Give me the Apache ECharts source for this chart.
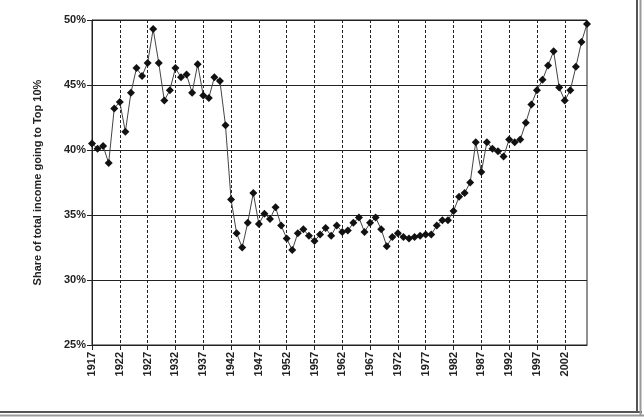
<!DOCTYPE html>
<html>
<head>
<meta charset="utf-8">
<script src="https://cdn.jsdelivr.net/npm/echarts@6/dist/echarts.min.js"></script>
<style>
html,body{margin:0;padding:0;background:#fff;}
#chart{width:644px;height:419px;}
</style>
</head>
<body>
<div id="chart"></div>
<script>
var years = ['1917','1918','1919','1920','1921','1922','1923','1924','1925','1926',
'1927','1928','1929','1930','1931','1932','1933','1934','1935','1936',
'1937','1938','1939','1940','1941','1942','1943','1944','1945','1946',
'1947','1948','1949','1950','1951','1952','1953','1954','1955','1956',
'1957','1958','1959','1960','1961','1962','1963','1964','1965','1966',
'1967','1968','1969','1970','1971','1972','1973','1974','1975','1976',
'1977','1978','1979','1980','1981','1982','1983','1984','1985','1986',
'1987','1988','1989','1990','1991','1992','1993','1994','1995','1996',
'1997','1998','1999','2000','2001','2002','2003','2004','2005','2006'];

var top10Share = [40.5,40.1,40.3,39.0,43.2,43.7,41.4,44.4,46.3,45.7,
46.7,49.3,46.7,43.8,44.6,46.3,45.6,45.8,44.4,46.6,
44.2,44.0,45.6,45.3,41.9,36.2,33.6,32.5,34.4,36.7,
34.3,35.1,34.7,35.6,34.2,33.2,32.3,33.6,33.9,33.4,
33.0,33.5,34.0,33.4,34.2,33.7,33.8,34.4,34.8,33.7,
34.4,34.8,33.9,32.6,33.3,33.6,33.3,33.2,33.3,33.4,
33.5,33.5,34.2,34.6,34.6,35.3,36.4,36.7,37.5,40.6,
38.3,40.6,40.1,39.9,39.5,40.8,40.6,40.8,42.1,43.5,
44.6,45.4,46.5,47.6,44.8,43.8,44.6,46.4,48.3,49.7];

var yTicks = {min: 25, max: 50, step: 5};
var yName = 'Share of total income going to Top 10%';

var chart = echarts.init(document.getElementById('chart'));
var lab = {fontFamily: 'Liberation Sans, Arial, sans-serif', fontWeight: 'bold', fontSize: 11, color: '#222'};
chart.setOption({
  animation: false,
  backgroundColor: '#fff',
  grid: {left: 92, right: 57, top: 20, bottom: 74, show: true, borderColor: '#222', borderWidth: 1},
  xAxis: {
    type: 'category',
    data: years,
    boundaryGap: false,
    axisLine: {lineStyle: {color: '#222', width: 1}},
    axisTick: {interval: 4, length: 5, lineStyle: {color: '#222'}},
    axisLabel: Object.assign({interval: 4, rotate: 90, margin: 7}, lab),
    splitLine: {show: true, interval: 4, lineStyle: {color: '#222', type: [3, 2], width: 1}}
  },
  yAxis: {
    type: 'value',
    min: yTicks.min, max: yTicks.max, interval: yTicks.step,
    name: yName,
    nameLocation: 'middle',
    nameGap: 49,
    nameRotate: 90,
    nameTextStyle: lab,
    axisLine: {show: true, lineStyle: {color: '#222', width: 1}},
    axisTick: {show: true, length: 5, lineStyle: {color: '#222'}},
    axisLabel: Object.assign({formatter: '{value}%', margin: 6}, lab),
    splitLine: {show: true, lineStyle: {color: '#222', width: 1}}
  },
  series: [{
    type: 'line',
    data: top10Share,
    symbol: 'diamond',
    symbolSize: 8,
    showAllSymbol: true,
    itemStyle: {color: '#111'},
    lineStyle: {color: '#444', width: 1}
  }],
  graphic: [
    {type: 'line', shape: {x1: 0, y1: 412, x2: 642, y2: 412}, style: {stroke: '#555', lineWidth: 2}},
    {type: 'line', shape: {x1: 0, y1: 415.5, x2: 644, y2: 415.5}, style: {stroke: '#999', lineWidth: 2}},
    {type: 'line', shape: {x1: 637, y1: 0, x2: 637, y2: 413}, style: {stroke: '#555', lineWidth: 2}},
    {type: 'line', shape: {x1: 640.5, y1: 0, x2: 640.5, y2: 416}, style: {stroke: '#999', lineWidth: 2}}
  ]
});
</script>
</body>
</html>
